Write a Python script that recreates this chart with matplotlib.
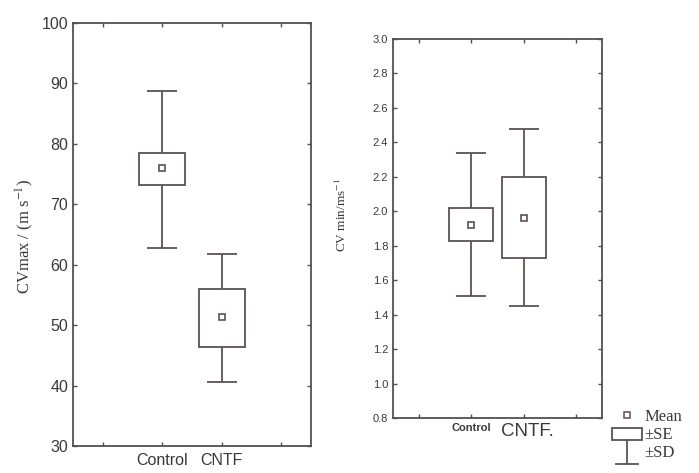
import matplotlib
matplotlib.use("Agg")
import matplotlib.pyplot as plt
from matplotlib.lines import Line2D
from matplotlib.patches import Rectangle
from matplotlib.legend_handler import HandlerBase

plt.rcParams["mathtext.fontset"] = "stix"

groups = ["Control", "CNTF"]
xpos = [2, 3]

# CV max (m/s)
max_mean = [76.0, 51.3]
max_se_lo = [73.2, 46.4]
max_se_hi = [78.5, 56.0]
max_sd_lo = [62.7, 40.6]
max_sd_hi = [88.8, 61.8]

# CV min (m/s)
min_mean = [1.92, 1.96]
min_se_lo = [1.83, 1.73]
min_se_hi = [2.02, 2.20]
min_sd_lo = [1.51, 1.45]
min_sd_hi = [2.34, 2.48]

col = "#5e5052"
spine_col = "#505050"
txt_col = "#3a3a3a"

fig = plt.figure(figsize=(6.99, 4.73), dpi=100)
ax1 = fig.add_axes([73/699, 27/473, 238/699, 423/473])
ax2 = fig.add_axes([393/699, 55/473, 209/699, 379/473])


def draw_panel(ax, mean, se_lo, se_hi, sd_lo, sd_hi, box_w, cap):
    yerr = [[m - lo for m, lo in zip(mean, sd_lo)], [hi - m for m, hi in zip(mean, sd_hi)]]
    ax.errorbar(xpos, mean, yerr=yerr, fmt="none", ecolor=col, elinewidth=1.3,
                capsize=cap, capthick=1.3, zorder=2)
    heights = [hi - lo for lo, hi in zip(se_lo, se_hi)]
    ax.bar(xpos, heights, bottom=se_lo, width=box_w, color="white",
           edgecolor=col, linewidth=1.3, zorder=3)
    ax.plot(xpos, mean, ls="none", marker="s", ms=4.5, mfc="white",
            mec=col, mew=1.2, zorder=4)
    ax.set_xlim(0.5, 4.5)
    ax.set_xticks([1, 2, 3, 4])
    for s in ax.spines.values():
        s.set_color(spine_col)
        s.set_linewidth(1.3)
    ax.tick_params(direction="in", length=3, width=1, colors=spine_col,
                   top=True, right=True, labelcolor=txt_col)


draw_panel(ax1, max_mean, max_se_lo, max_se_hi, max_sd_lo, max_sd_hi, 0.77, 10.5)
ax1.set_ylim(30, 100)
ax1.set_yticks(range(30, 101, 10))
ax1.set_xticklabels(["", groups[0], groups[1], ""], family="Liberation Sans", fontsize=11.5)
for t in ax1.get_yticklabels():
    t.set_family("Liberation Sans")
    t.set_fontsize(11.5)
ax1.tick_params(axis="x", pad=5)

draw_panel(ax2, min_mean, min_se_lo, min_se_hi, min_sd_lo, min_sd_hi, 0.84, 11)
ax2.set_ylim(0.8, 3.0)
ax2.set_yticks([0.8 + 0.2 * i for i in range(12)])
ax2.set_yticklabels([f"{0.8 + 0.2 * i:.1f}" for i in range(12)], family="Liberation Sans", fontsize=8)
ax2.set_xticklabels(["", "", "", ""])
ax2.text(2, -0.012, groups[0], transform=ax2.get_xaxis_transform(), ha="center", va="top",
         family="Liberation Sans", fontsize=8, fontweight="bold", color=txt_col)
ax2.text(3.08, -0.012, groups[1] + ".", transform=ax2.get_xaxis_transform(), ha="center", va="top",
         family="Liberation Sans", fontsize=13.5, color=txt_col)

fig.text(25/699, 1 - 236/473, r"CVmax / (m s$^{-1}$)", rotation=90, ha="center", va="center",
         family="Liberation Serif", fontsize=12, color=txt_col)
fig.text(341/699, 1 - 215/473, r"CV min/ms$^{-1}$", rotation=90, ha="center", va="center",
         family="Liberation Serif", fontsize=9.5, color=txt_col)


class SEHandler(HandlerBase):
    def create_artists(self, legend, orig, xd, yd, w, h, fs, trans):
        r = Rectangle((-xd, -yd - 0.1 * h), w, h * 1.05, fill=False, ec=col, lw=1.3, transform=trans)
        return [r]


class SDHandler(HandlerBase):
    def create_artists(self, legend, orig, xd, yd, w, h, fs, trans):
        cx = -xd + w / 2
        v = Line2D([cx, cx], [-yd + h * 1.45, -yd - 0.6 * h], color=col, lw=1.3, transform=trans)
        b = Line2D([-xd + 0.12 * w, -xd + 0.88 * w], [-yd - 0.6 * h] * 2, color=col, lw=1.3, transform=trans)
        return [v, b]


h_mean = Line2D([], [], ls="none", marker="s", ms=4, mfc="white", mec=col, mew=1.1)
h_se = Rectangle((0, 0), 1, 1)
h_sd = Line2D([], [])
fig.legend([h_mean, h_se, h_sd], ["Mean", "\u00b1SE", "\u00b1SD"],
           handler_map={h_se: SEHandler(), h_sd: SDHandler()},
           loc="upper left", bbox_to_anchor=(612/699, 1 - 409/473),
           frameon=False, borderpad=0, borderaxespad=0, handlelength=1.8,
           handletextpad=0.15, labelspacing=0.12,
           prop={"family": "Liberation Serif", "size": 12}, labelcolor=txt_col)

fig.savefig("out.png", dpi=100)
